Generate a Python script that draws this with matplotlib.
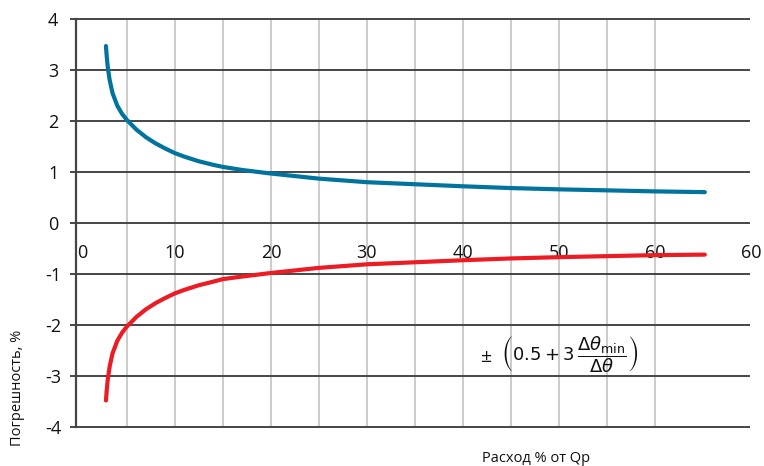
"""Погрешность vs расход — recreation of the reference chart."""

import matplotlib
matplotlib.use("Agg")
import matplotlib.pyplot as plt

plt.rcParams["font.family"] = ["Open Sans", "DejaVu Sans"]
plt.rcParams["axes.unicode_minus"] = False
plt.rcParams["mathtext.fontset"] = "dejavusans"

# data
flow = [2.82, 2.9, 3.0, 3.2, 3.5, 4.0, 4.5, 5.0, 6.0, 7.0, 8.0, 9.0, 10.0,
        11.0, 12.5, 14.0, 15.0, 17.0, 20.0, 25.0, 30.0, 35.0, 40.0, 45.0,
        50.0, 55.0, 60.0, 65.2]
err_upper = [3.47, 3.27, 3.07, 2.81, 2.55, 2.30, 2.14, 2.02, 1.83, 1.68, 1.56,
             1.46, 1.37, 1.30, 1.21, 1.14, 1.10, 1.04, 0.97, 0.87, 0.80, 0.76,
             0.72, 0.685, 0.66, 0.64, 0.62, 0.605]
err_lower = [-3.48, -3.28, -3.08, -2.82, -2.56, -2.31, -2.15, -2.03, -1.84, -1.69,
             -1.57, -1.47, -1.38, -1.31, -1.22, -1.15, -1.10, -1.05, -0.98, -0.88,
             -0.81, -0.77, -0.73, -0.695, -0.67, -0.65, -0.63, -0.62]

y_ticks = [-4, -3, -2, -1, 0, 1, 2, 3, 4]
y_labels = ["-4", "-3", "-2", "-1", "0", "1", "2", "3", "4"]
x_label_pos = [0.4, 10, 20, 30, 40, 50, 60, 70]
x_labels = ["0", "10", "20", "30", "40", "50", "60", "60"]
x_grid = [5, 10, 15, 20, 25, 30, 35, 40, 45, 50, 55, 60]

DARK = "#454545"
LIGHT = "#c2c2c2"
BLUE = "#00739e"
RED = "#ec1c24"

fig = plt.figure(figsize=(7.64, 4.66), dpi=100)
ax = fig.add_axes([76 / 764, 1 - 427 / 466, (749 - 76) / 764, (427 - 19) / 466])
ax.set_xlim(-0.3, 69.8)
ax.set_ylim(-4, 4)

for xv in x_grid:
    ax.axvline(xv, color=LIGHT, lw=1.2, zorder=1)
for yv in y_ticks:
    ax.axhline(yv, color=DARK, lw=1.4, zorder=2, clip_on=False)

ax.plot(flow, err_upper, color=BLUE, lw=3.0, solid_capstyle="round",
        solid_joinstyle="round", zorder=4)
ax.plot(flow, err_lower, color=RED, lw=3.0, solid_capstyle="round",
        solid_joinstyle="round", zorder=4)

for s in ["top", "right", "bottom"]:
    ax.spines[s].set_visible(False)
ax.spines["left"].set_color(DARK)
ax.spines["left"].set_linewidth(1.6)
ax.spines["left"].set_zorder(3)

ax.set_xticks([])
ax.set_yticks(y_ticks)
ax.set_yticklabels(y_labels)
ax.tick_params(axis="y", length=4.5, width=1.4, color=DARK, pad=12,
               labelsize=13, labelcolor="#111111")
for lab in ax.get_yticklabels():
    lab.set_horizontalalignment("center")

for xp, txt in zip(x_label_pos, x_labels):
    ax.text(xp, -0.59, txt, ha="center", va="center", fontsize=13,
            color="#111111", zorder=3)

# formula annotation
ax.text(42.5, -2.62, "±", ha="center", va="center", fontsize=14, color="#111111")
ax.text(51.1, -2.58,
        r"$\left(0.5 + 3\,\dfrac{\Delta\theta_{\mathrm{min}}}{\Delta\theta}\right)$",
        ha="center", va="center", fontsize=13, color="#111111")

fig.text(18 / 764, 1 - 388 / 466, "Погрешность, %", rotation=90,
         ha="center", va="center", fontsize=10.5, color="#111111")
fig.text(536 / 764, 1 - 458 / 466, "Расход % от Qp", ha="center", va="center",
         fontsize=10.5, color="#111111")

fig.savefig("out.png", dpi=100)
